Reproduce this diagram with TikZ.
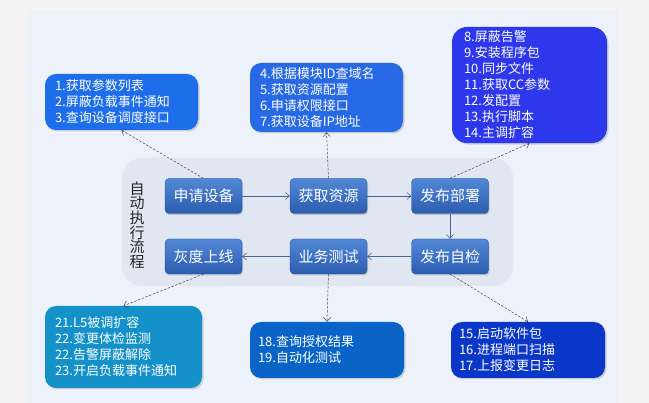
\documentclass[tikz,border=0pt]{standalone}
\usepackage{fontspec}
\setmainfont{Noto Sans CJK SC}
\usetikzlibrary{arrows.meta,shadows}
\definecolor{pagebg}{RGB}{244,244,244}
\definecolor{panelbg}{RGB}{237,241,249}
\definecolor{innerbg}{RGB}{224,231,242}
\definecolor{maintop}{RGB}{82,136,214}
\definecolor{mainbot}{RGB}{44,92,176}
\definecolor{linkc}{RGB}{70,100,150}
\definecolor{dashc}{RGB}{70,70,80}
\definecolor{cA}{RGB}{30,110,235}
\definecolor{cB}{RGB}{40,105,230}
\definecolor{cC}{RGB}{45,55,235}
\definecolor{cD}{RGB}{20,145,200}
\definecolor{cE}{RGB}{10,100,200}
\definecolor{cF}{RGB}{10,55,200}
\tikzset{
  mainbox/.style={rectangle, rounded corners=4pt, minimum width=77pt, minimum height=35pt,
    top color=maintop, bottom color=mainbot, draw=mainbot!80!black, line width=0.3pt,
    text=white, font=\fontsize{15}{15}\selectfont,
    drop shadow={opacity=0.35, shadow xshift=1pt, shadow yshift=-1.5pt}},
  callout/.style={rectangle, rounded corners=11pt, text=white, align=left,
    inner xsep=10pt, inner ysep=4pt, font=\fontsize{13}{16}\selectfont,
    drop shadow={opacity=0.3, shadow xshift=1.5pt, shadow yshift=-1.5pt}},
  flow/.style={draw=linkc, line width=0.6pt, -{Straight Barb[length=4pt,width=7pt]}},
  dashlink/.style={draw=dashc, line width=0.5pt, dashed, dash pattern=on 2.5pt off 1.5pt,
    -{Straight Barb[length=4pt,width=7pt]}}
}
\begin{document}
\begin{tikzpicture}[x=1pt,y=-1pt]
\path[fill=pagebg] (0,0) rectangle (649,403);
\useasboundingbox (0,0) rectangle (649,403);
\fill[panelbg] (28,10) rectangle (618,403);
\fill[innerbg, rounded corners=20pt] (122,158) rectangle (513,286);

\node[align=center, text=black!85, font=\fontsize{15}{14.6}\selectfont] (title) at (137,225) {自\\动\\执\\行\\流\\程};

\node[mainbox] (m1) at (203.5,196) {申请设备};
\node[mainbox] (m2) at (328.5,196) {获取资源};
\node[mainbox] (m3) at (450,196) {发布部署};
\node[mainbox] (m4) at (450,256.5) {发布自检};
\node[mainbox] (m5) at (328.5,256.5) {业务测试};
\node[mainbox] (m6) at (203.5,256.5) {灰度上线};

\draw[flow] (m1) -- (m2);
\draw[flow] (m2) -- (m3);
\draw[flow] (m3) -- (m4);
\draw[flow] (m4) -- (m5);
\draw[flow] (m5) -- (m6);

\node[callout, fill=cA, minimum width=153pt, minimum height=56pt, text width=133pt] (b1) at (121.5,102)
  {1.获取参数列表\\2.屏蔽负载事件通知\\3.查询设备调度接口};
\node[callout, fill=cB, minimum width=153pt, minimum height=69pt, text width=133pt] (b2) at (326.5,97.5)
  {4.根据模块ID查域名\\5.获取资源配置\\6.申请权限接口\\7.获取设备IP地址};
\node[callout, fill=cC, rounded corners=15pt, minimum width=155pt, minimum height=116pt, text width=131pt, inner xsep=12pt] (b3) at (529.5,85)
  {8.屏蔽告警\\9.安装程序包\\10.同步文件\\11.获取CC参数\\12.发配置\\13.执行脚本\\14.主调扩容};
\node[callout, fill=cD, minimum width=157pt, minimum height=82pt, text width=137pt] (b4) at (123.5,347)
  {21.L5被调扩容\\22.变更体检监测\\22.告警屏蔽解除\\23.开启负载事件通知};
\node[callout, fill=cE, minimum width=154pt, minimum height=56pt, text width=138pt, inner xsep=8pt] (b5) at (327,350)
  {18.查询授权结果\\19.自动化测试};
\node[callout, fill=cF, minimum width=154pt, minimum height=56pt, text width=138pt, inner xsep=8pt] (b6) at (528,350)
  {15.启动软件包\\16.进程端口扫描\\17.上报变更日志};

\draw[dashlink] (m1.north) -- (b1.south);
\draw[dashlink] (m2.north) -- (b2.south);
\draw[dashlink] (m3.north) -- (b3.south);
\draw[dashlink] (m6.south) -- (b4.north);
\draw[dashlink] (m5.south) -- (b5.north);
\draw[dashlink] (m4.south) -- (b6.north);
\end{tikzpicture}
\end{document}
